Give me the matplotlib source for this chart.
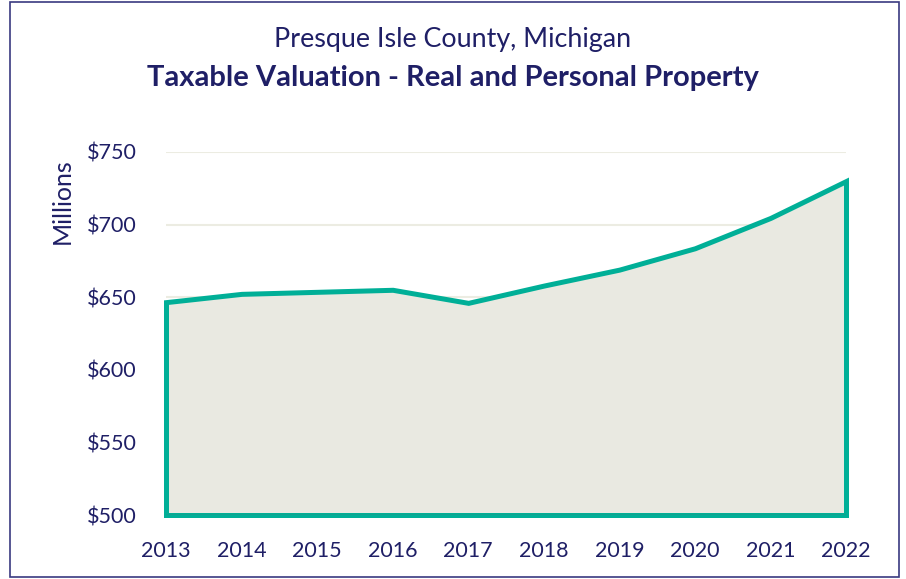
#!/usr/bin/env python3
"""Presque Isle County taxable valuation - area chart."""

import matplotlib as mpl
import matplotlib.pyplot as plt
from matplotlib.patches import Rectangle

NAVY = "#1F1F66"
TEAL = "#00AF97"
FILL = "#E9E9E1"
GRID = "#ECECE2"

years = [2013, 2014, 2015, 2016, 2017, 2018, 2019, 2020, 2021, 2022]
valuation = [646.6, 652.3, 653.7, 655.1, 646.1, 658.0, 669.0, 683.7, 704.6, 730.0]
y_ticks = [500, 550, 600, 650, 700, 750]
y_labels = ["$500", "$550", "$600", "$650", "$700", "$750"]

mpl.rcParams.update({
    "font.family": ["Lato", "DejaVu Sans"],
})

fig = plt.figure(figsize=(9.06, 5.79), dpi=100, facecolor="white")
ax = fig.add_axes([166 / 906, 1 - 515 / 579, 680 / 906, 363 / 579])

ax.fill_between(years, 500, valuation, facecolor=FILL, edgecolor=TEAL,
                linewidth=3.6, zorder=2, joinstyle="miter", clip_on=False)
ax.axhline(500, color="#5E6B6A", linewidth=1, zorder=3)

ax.set_xlim(years[0], years[-1])
ax.set_ylim(500, 750)
ax.set_yticks(y_ticks)
ax.set_yticklabels(y_labels)
ax.set_xticks(years)
ax.set_xticklabels([str(y) for y in years])
ax.tick_params(length=0, labelsize=15.5, colors=NAVY)
ax.tick_params(axis="y", pad=21)
ax.tick_params(axis="x", pad=19)
ax.yaxis.grid(True, color=GRID, linewidth=1.5, zorder=0)
ax.set_axisbelow(True)
for s in ax.spines.values():
    s.set_visible(False)

fig.text(0.5, 1 - 40 / 579, "Presque Isle County, Michigan", ha="center",
         va="center", fontsize=19.4, color=NAVY)
fig.text(0.5, 1 - 78 / 579, "Taxable Valuation - Real and Personal Property",
         ha="center", va="center", fontsize=21, fontweight="bold", color=NAVY)
fig.text(62 / 906, 1 - 201 / 579, "Millions", rotation=90, ha="center",
         va="center", fontsize=18, color=NAVY)

fig.patches.append(Rectangle((10 / 906, 2 / 579), 889 / 906, 575 / 579,
                             transform=fig.transFigure, fill=False,
                             edgecolor="#3A3A80", linewidth=1.2))

fig.savefig("out.png", dpi=100, facecolor="white")
